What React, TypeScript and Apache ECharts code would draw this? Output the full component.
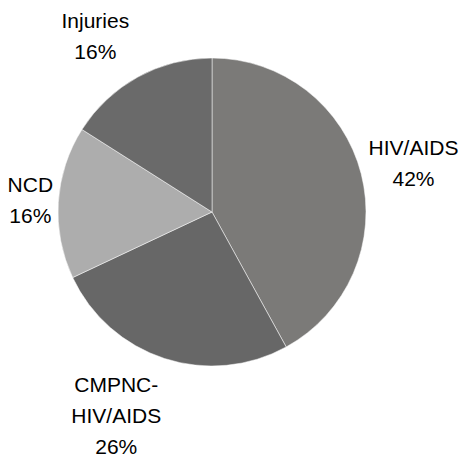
import React, { useEffect, useRef } from "react";
import * as echarts from "echarts";

const categories = ["HIV/AIDS", "CMPNC-HIV/AIDS", "NCD", "Injuries"];
const values = [42, 26, 16, 16];
const colors = ["#7b7a78", "#676767", "#adadad", "#6a6a6a"];

// label placement styling: distance from centre along the slice bisector and a small nudge
const labelDistance = [207, 229, 182, 211];
const labelNudge = [
  [1, 2],
  [-25, -14],
  [0, -1],
  [-15, 9],
];

const CX = 212;
const CY = 212;
const R = 154;

export default function App() {
  const ref = useRef<HTMLDivElement>(null);

  useEffect(() => {
    document.body.style.margin = "0";
    if (!ref.current) return;
    const chart = echarts.init(ref.current, undefined, { renderer: "svg" });
    const total = values.reduce((a, b) => a + b, 0);
    const midAngles: number[] = [];
    let cum = 0;
    values.forEach((v) => {
      const frac = (cum + v / 2) / total;
      midAngles.push(((90 - frac * 360) * Math.PI) / 180);
      cum += v;
    });

    chart.setOption({
      animation: false,
      backgroundColor: "#ffffff",
      series: [
        {
          type: "pie",
          center: [CX, CY],
          radius: R,
          startAngle: 90,
          clockwise: true,
          avoidLabelOverlap: false,
          data: categories.map((name, i) => ({
            name,
            value: values[i],
            itemStyle: { color: colors[i] },
          })),
          itemStyle: { borderColor: "#ffffff", borderWidth: 0.5 },
          label: {
            show: true,
            position: "inside",
            color: "#000000",
            fontFamily: "Liberation Sans",
            fontSize: 21,
            lineHeight: 31,
            align: "center",
            formatter: (p: any) =>
              p.name.replace("-", "-\n") + "\n" + Math.round(p.percent) + "%",
          },
          labelLine: { show: false },
          emphasis: { disabled: true },
          labelLayout: (params: any) => {
            const i = params.dataIndex;
            const a = midAngles[i];
            const d = labelDistance[i];
            return {
              x: CX + d * Math.cos(a) + labelNudge[i][0],
              y: CY - d * Math.sin(a) + labelNudge[i][1],
              align: "center",
              verticalAlign: "middle",
            };
          },
        },
      ],
    });
    return () => chart.dispose();
  }, []);

  return <div ref={ref} style={{ width: 461, height: 460 }} />;
}
